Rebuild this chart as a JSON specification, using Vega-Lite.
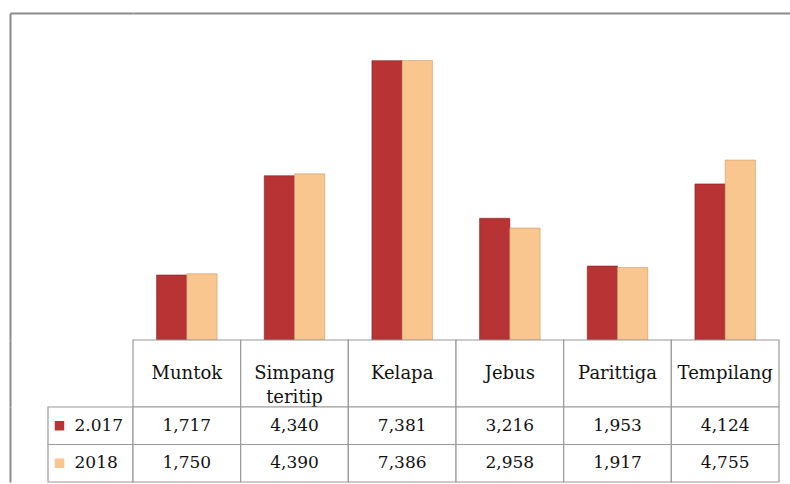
{
  "$schema": "https://vega.github.io/schema/vega-lite/v6.json",
  "padding": {"left": 7, "top": 13, "right": 0, "bottom": 0},
  "bounds": "flush",
  "spacing": 0,
  "columns": 2,
  "datasets": {
    "t": [
      {"kec": "Muntok", "year": "2.017", "value": 1717},
      {"kec": "Muntok", "year": "2018", "value": 1750},
      {"kec": "Simpang teritip", "year": "2.017", "value": 4340},
      {"kec": "Simpang teritip", "year": "2018", "value": 4390},
      {"kec": "Kelapa", "year": "2.017", "value": 7381},
      {"kec": "Kelapa", "year": "2018", "value": 7386},
      {"kec": "Jebus", "year": "2.017", "value": 3216},
      {"kec": "Jebus", "year": "2018", "value": 2958},
      {"kec": "Parittiga", "year": "2.017", "value": 1953},
      {"kec": "Parittiga", "year": "2018", "value": 1917},
      {"kec": "Tempilang", "year": "2.017", "value": 4124},
      {"kec": "Tempilang", "year": "2018", "value": 4755}
    ]
  },
  "concat": [
    {
      "width": 123,
      "height": 327,
      "data": {"values": [{"f": 0}]},
      "mark": {"type": "point", "opacity": 0},
      "encoding": {
        "x": {"field": "f", "type": "quantitative", "scale": {"domain": [0, 1]}, "axis": {"orient": "top", "title": null}},
        "y": {"field": "f", "type": "quantitative", "scale": {"domain": [0, 1]}, "axis": {"orient": "left", "title": null}}
      }
    },
    {
      "width": 657,
      "height": 327,
      "data": {"name": "t"},
      "mark": {"type": "bar", "strokeWidth": 0.6},
      "encoding": {
        "x": {"field": "kec", "type": "nominal", "sort": null,
              "scale": {"paddingInner": 0, "paddingOuter": 0.051, "align": 0},
              "axis": {"orient": "top", "title": null}},
        "xOffset": {"field": "year", "type": "nominal", "scale": {"paddingInner": 0, "paddingOuter": 0.78}},
        "y": {"field": "value", "type": "quantitative", "scale": {"domain": [0, 8641], "nice": false}, "axis": null},
        "color": {"field": "year", "type": "nominal", "scale": {"domain": ["2.017", "2018"], "range": ["#B83434", "#F9C690"]}, "legend": null},
        "stroke": {"field": "year", "type": "nominal", "scale": {"domain": ["2.017", "2018"], "range": ["#7E2020", "#C99A6A"]}, "legend": null}
      }
    },
    {
      "width": 123,
      "height": 67,
      "data": {"values": [{"f": 0}]},
      "mark": {"type": "point", "opacity": 0},
      "encoding": {
        "x": {"field": "f", "type": "quantitative", "scale": {"domain": [0, 1]}, "axis": null},
        "y": {"field": "f", "type": "quantitative", "scale": {"domain": [0, 1]}, "axis": {"orient": "left", "title": null}}
      }
    },
    {
      "width": 657,
      "height": 67,
      "data": {"name": "t"},
      "transform": [{"filter": "datum.year === '2018'"}],
      "encoding": {
        "x": {"field": "kec", "type": "nominal", "sort": null,
              "scale": {"paddingInner": 0, "paddingOuter": 0.051, "align": 0},
              "axis": null}
      },
      "layer": [
        {"mark": {"type": "rect", "fill": "white", "stroke": "#9a9a9a", "strokeWidth": 1.2}},
        {"mark": {"type": "text", "fontSize": 18, "lineBreak": " ", "lineHeight": 24, "baseline": "middle", "color": "#111"},
         "encoding": {"text": {"field": "kec"}}}
      ]
    },
    {
      "width": 123,
      "height": 75,
      "data": {"name": "t"},
      "transform": [{"aggregate": [{"op": "count", "as": "n"}], "groupby": ["year"]}],
      "encoding": {
        "x": {"datum": "Tahun", "type": "nominal", "scale": {"domain": ["Tahun"], "paddingInner": 0, "paddingOuter": 0.2235, "align": 1}, "axis": null},
        "y": {"field": "year", "type": "nominal", "scale": {"domain": ["2.017", "2018"], "paddingInner": 0, "paddingOuter": 0}, "axis": {"orient": "left", "title": null}}
      },
      "layer": [
        {"mark": {"type": "rect", "fill": "white", "stroke": "#9a9a9a", "strokeWidth": 1.2}},
        {"mark": {"type": "point", "shape": "square", "filled": true, "size": 90, "opacity": 1, "xOffset": -31},
         "encoding": {"color": {"field": "year", "type": "nominal", "scale": {"domain": ["2.017", "2018"], "range": ["#B83434", "#F0B984"]}, "legend": null}}},
        {"mark": {"type": "text", "fontSize": 17, "align": "left", "baseline": "middle", "dx": -16, "color": "#111"},
         "encoding": {"text": {"field": "year"}}}
      ]
    },
    {
      "width": 657,
      "height": 75,
      "data": {"name": "t"},
      "encoding": {
        "x": {"field": "kec", "type": "nominal", "sort": null,
              "scale": {"paddingInner": 0, "paddingOuter": 0.051, "align": 0},
              "axis": null},
        "y": {"field": "year", "type": "nominal", "scale": {"domain": ["2.017", "2018"], "paddingInner": 0, "paddingOuter": 0}, "axis": null}
      },
      "layer": [
        {"mark": {"type": "rect", "fill": "white", "stroke": "#9a9a9a", "strokeWidth": 1.2}},
        {"mark": {"type": "text", "fontSize": 17, "baseline": "middle", "color": "#111"},
         "encoding": {"text": {"field": "value", "type": "quantitative", "format": ","}}}
      ]
    }
  ],
  "config": {
    "view": {"stroke": null},
    "font": "DejaVu Serif",
    "axis": {"domainColor": "#8c8c8c", "domainWidth": 2, "ticks": false, "labels": false, "grid": false}
  }
}
